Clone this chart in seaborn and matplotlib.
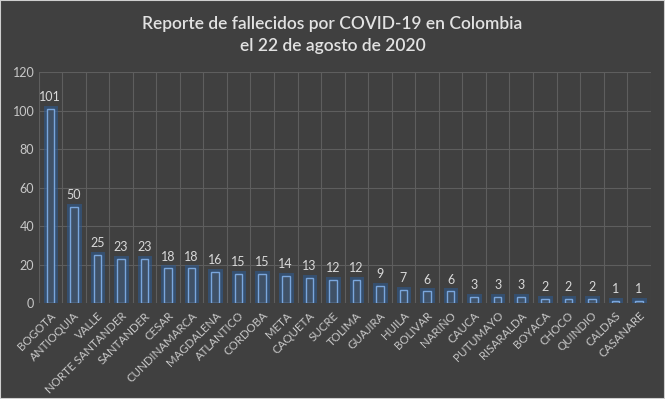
import matplotlib
matplotlib.use("Agg")
import matplotlib.pyplot as plt
import matplotlib.patheffects as pe
import seaborn as sns
import pandas as pd
import numpy as np

departamentos = ["BOGOTA", "ANTIOQUIA", "VALLE", "NORTE SANTANDER", "SANTANDER",
                 "CESAR", "CUNDINAMARCA", "MAGDALENA", "ATLANTICO", "CORDOBA",
                 "META", "CAQUETA", "SUCRE", "TOLIMA", "GUAJIRA", "HUILA",
                 "BOLIVAR", "NARIÑO", "CAUCA", "PUTUMAYO", "RISARALDA",
                 "BOYACA", "CHOCO", "QUINDIO", "CALDAS", "CASANARE"]
fallecidos = [101, 50, 25, 23, 23, 18, 18, 16, 15, 15, 14, 13, 12, 12, 9, 7,
              6, 6, 3, 3, 3, 2, 2, 2, 1, 1]
y_ticks = [0, 20, 40, 60, 80, 100, 120]
titulo = "Reporte de fallecidos por COVID-19 en Colombia\nel 22 de agosto de 2020"

df = pd.DataFrame({"dep": departamentos, "n": fallecidos})

BG = "#404040"
sns.set_theme(style="dark")
plt.rcParams["font.family"] = ["Lato", "DejaVu Sans"]

fig = plt.figure(figsize=(6.65, 3.99), dpi=100, facecolor=BG)
ax = fig.add_axes([38.5 / 665, 1 - 303 / 399, (650.7 - 38.5) / 665, (303 - 72.3) / 399])
ax.set_facecolor(BG)

sns.barplot(data=df, x="dep", y="n", ax=ax, width=0.32,
            color="#38506e", edgecolor="#7aa6dc", linewidth=1.0, zorder=3)
for p in ax.patches:
    p.set_path_effects([pe.Stroke(linewidth=5, foreground="#2e5a90", alpha=0.6),
                        pe.Normal()])

ax.set_ylim(0, 120)
ax.set_xlim(-0.5, len(departamentos) - 0.5)
ax.set_yticks(y_ticks)
ax.set_yticklabels([str(t) for t in y_ticks], color="#c8c8c8", fontsize=9)
ax.grid(False)
for t in y_ticks:
    ax.axhline(t, color="#5e5e5e", lw=0.8, zorder=1)
for xv in np.arange(-0.5, len(departamentos), 1.0):
    ax.axvline(xv, color="#5e5e5e", lw=0.8, zorder=1)

ax.set_xticks(range(len(departamentos)))
ax.set_xticklabels(departamentos, rotation=45, ha="right", rotation_mode="anchor",
                   color="#c8c8c8", fontsize=8.3)
ax.tick_params(axis="both", length=0, pad=3)
ax.tick_params(axis="x", pad=5)
ax.set_xlabel("")
ax.set_ylabel("")
for s in ax.spines.values():
    s.set_visible(False)

for i, v in enumerate(fallecidos):
    ax.text(i, v + 3, str(v), ha="center", va="bottom", color="#d9d9d9", fontsize=9)

fig.text(0.5, 1 - 35 / 399, titulo, ha="center", va="center", color="#e2e2e2",
         fontsize=12.5, linespacing=1.45, fontweight="semibold")

fig.patches.append(plt.Rectangle((0, 0), 1, 1, transform=fig.transFigure,
                                 fill=False, edgecolor="#cfcfcf", lw=1.5))

fig.savefig("out.png", dpi=100, facecolor=BG)
